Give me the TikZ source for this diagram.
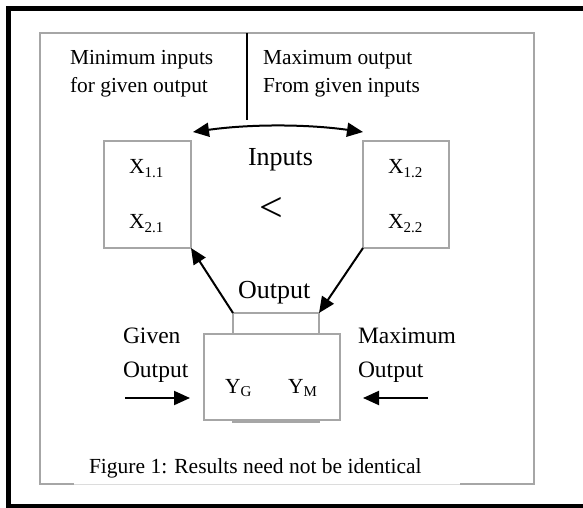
\documentclass[tikz,border=0pt]{standalone}
\usepackage{fontspec}
\setmainfont{Liberation Serif}
\usetikzlibrary{arrows.meta}
\definecolor{boxgray}{HTML}{A6A6A6}
\definecolor{lightgray}{HTML}{DCDCDC}
\newcommand{\fs}[1]{\fontsize{#1}{#1}\selectfont}
\newcommand{\sub}[2]{{\fs{21.5}#1}\raisebox{-4pt}{\fs{15}#2}}
\newcommand{\ysub}[2]{{\fs{21.5}#1}\raisebox{-3pt}{\fs{15}#2}}
\begin{document}
\begin{tikzpicture}[x=1pt,y=-1pt,
  graybox/.style={draw=boxgray,line width=2pt,inner sep=0pt,outer sep=0pt},
  txt/.style={inner sep=0pt,outer sep=0pt,anchor=base west},
  arr/.style={line width=2pt,-{Triangle[length=16pt,width=14pt]}},
  darr/.style={line width=2pt,{Triangle[length=16pt,width=14pt]}-{Triangle[length=16pt,width=14pt]}}]
\useasboundingbox (0,0) rectangle (583,508);
% outer frame
\draw[line width=5pt] (8.5,8.5) rectangle (590,506.5);
% inner gray frame
\draw[boxgray,line width=2pt] (74,484) -- (40,484) -- (40,33) -- (534,33) -- (534,484) -- (460,484);
\draw[lightgray,line width=1pt] (74,484) -- (460,484);
% top texts
\node[txt] (t1) at (70,65) {\fs{21.4}Minimum inputs};
\node[txt] (t2) at (70,93) {\fs{21.4}for given output};
\node[txt] (t3) at (263,65) {\fs{21.4}Maximum output};
\node[txt] (t4) at (263,93) {\fs{21.4}From given inputs};
\coordinate (vtop) at (247,33);
\coordinate (vbot) at (247,120);
\draw[line width=2pt] (vtop) -- (vbot);
% input boxes
\node[graybox,minimum width=87pt,minimum height=107pt] (lbox) at (147.5,194.5) {};
\node[graybox,minimum width=86pt,minimum height=107pt] (rbox) at (406,194.5) {};
\node[txt] (x11) at (129,173) {\sub{X}{1.1}};
\node[txt] (x21) at (129,228) {\sub{X}{2.1}};
\node[txt] (x12) at (388,173) {\sub{X}{1.2}};
\node[txt] (x22) at (388,228) {\sub{X}{2.2}};
\node[txt] (inp) at (248,165) {\fs{26}Inputs};
\node[inner sep=0pt] (lt) at (271.5,209) {\fs{42}<};
% double arrow
\coordinate (al) at (193,132);
\coordinate (ar) at (363,132);
\draw[darr] (al) .. controls (250,124) and (306,124) .. (ar);
% output boxes
\node[graybox,minimum width=86pt,minimum height=109pt] (obox) at (276,367.5) {};
\node[graybox,fill=white,minimum width=136pt,minimum height=86pt] (ybox) at (272,377) {};
\node[txt] (out) at (238,298) {\fs{26}Output};
\node[txt] (yg) at (225,393) {\ysub{Y}{G}};
\node[txt] (ym) at (288,393) {\ysub{Y}{M}};
% diagonal arrows
\draw[arr] (obox.north west) -- (lbox.south east);
\draw[arr] (rbox.south west) -- (obox.north east);
% side labels
\node[txt] (g1) at (123,343) {\fs{23.5}Given};
\node[txt] (g2) at (123,377) {\fs{23.5}Output};
\node[txt] (m1) at (358,343) {\fs{23.5}Maximum};
\node[txt] (m2) at (358,377) {\fs{23.5}Output};
\coordinate (hl1) at (125,398);
\coordinate (hl2) at (190,398);
\coordinate (hr1) at (428,398);
\coordinate (hr2) at (363,398);
\draw[arr] (hl1) -- (hl2);
\draw[arr] (hr1) -- (hr2);
% caption
\node[txt] (cap) at (89,473) {\fs{21.5}Figure 1: Results need not be identical};
\end{tikzpicture}
\end{document}
